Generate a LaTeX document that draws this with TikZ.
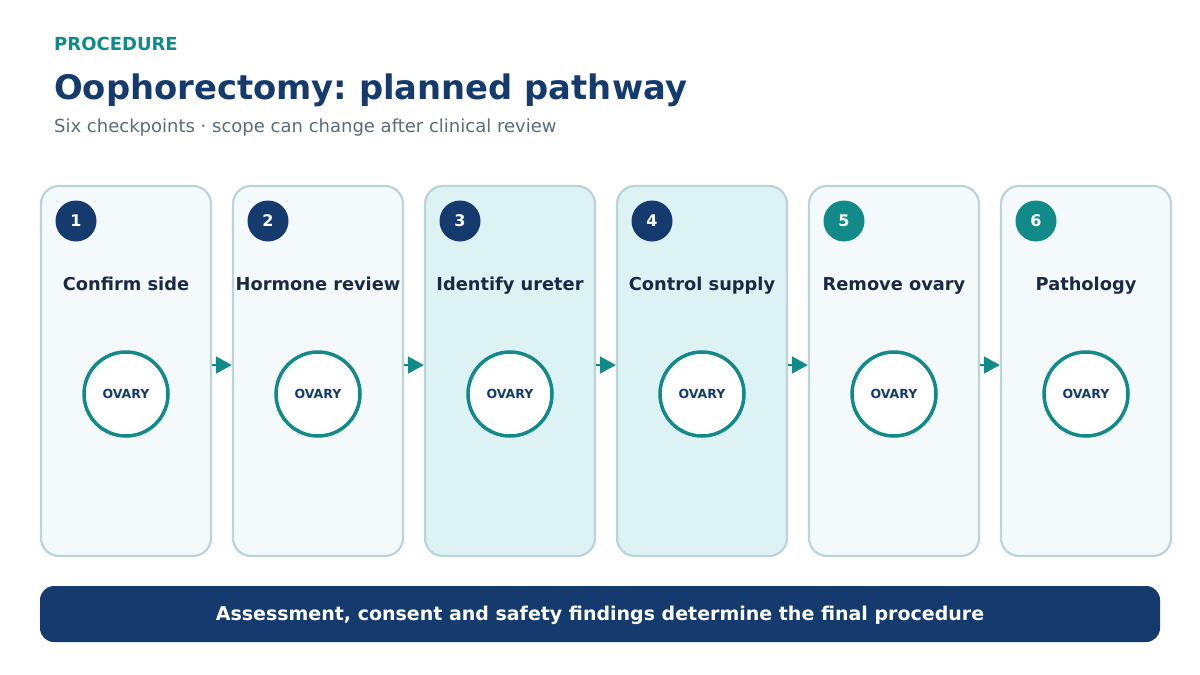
\documentclass[tikz,border=0pt]{standalone}
\usepackage{fontspec}
\setmainfont{DejaVu Sans}
\usetikzlibrary{arrows.meta}
\definecolor{navy}{HTML}{143A6E}
\definecolor{teal2}{HTML}{138A8A}
\definecolor{ink}{HTML}{1B2A44}
\definecolor{subgray}{HTML}{5A6B7B}
\definecolor{boxline}{HTML}{B9D4DB}
\definecolor{boxfill}{HTML}{F4F9FC}
\definecolor{boxhi}{HTML}{DDF2F3}
\tikzset{
  stepbox/.style={draw=boxline, line width=2.2pt, rounded corners=18pt, minimum width=170pt, minimum height=370pt, inner sep=0pt},
  numdot/.style={circle, minimum size=41pt, inner sep=0pt, text=white, font=\bfseries\fontsize{16}{18}\selectfont},
  steptitle/.style={text=ink, font=\bfseries\fontsize{17.8}{20}\selectfont, anchor=base, inner sep=0pt},
  ovary/.style={circle, draw=teal2, fill=white, line width=3.5pt, minimum size=84pt, inner sep=0pt, text=navy, font=\bfseries\fontsize{12.5}{14}\selectfont},
  flow/.style={draw=teal2, line width=2pt, -{Triangle[length=16pt,width=17pt]}, color=teal2},
  head/.style={anchor=base west, inner sep=0pt},
}
\begin{document}
\frenchspacing
\begin{tikzpicture}[x=1pt,y=-1pt]
\useasboundingbox (0,0) rectangle (1200,675);
\fill[white] (0,0) rectangle (1200,675);
\node[head, text=teal2, font=\bfseries\fontsize{18}{20}\selectfont] (kicker) at (54,50.5) {PROCEDURE};
\node[head, text=navy, font=\bfseries\fontsize{33.8}{38}\selectfont] (title) at (54,99) {Oophorectomy: planned pathway};
\node[head, text=subgray, font=\fontsize{18}{20}\selectfont] (sub) at (54,132) {Six checkpoints · scope can change after clinical review};
\foreach \i/\t/\f/\c in {1/Confirm side/boxfill/navy,2/Hormone review/boxfill/navy,3/Identify ureter/boxhi/navy,4/Control supply/boxhi/navy,5/Remove ovary/boxfill/teal2,6/Pathology/boxfill/teal2}{
  \pgfmathsetmacro{\cx}{126+192*(\i-1)}
  \node[stepbox, fill=\f] (box\i) at (\cx,371) {};
  \node[numdot, fill=\c] (num\i) at (\cx-50,221) {\i};
  \node[steptitle] (ttl\i) at (\cx,290.5) {\t};
  \node[ovary] (ov\i) at (\cx,394) {OVARY};
}
\foreach \i [evaluate=\i as \j using int(\i+1)] in {1,...,5}{
  \draw[flow] ([yshift=6pt]box\i.east) -- ([yshift=6pt]box\j.west);
}
\node[fill=navy, rounded corners=14pt, minimum width=1120pt, minimum height=56pt, inner sep=0pt] (banner) at (600,614) {};
\node[anchor=base, inner sep=0pt, text=white, font=\bfseries\fontsize{19}{21}\selectfont] (bannertext) at (banner.center |- 0,620) {Assessment, consent and safety findings determine the final procedure};
\end{tikzpicture}
\end{document}
